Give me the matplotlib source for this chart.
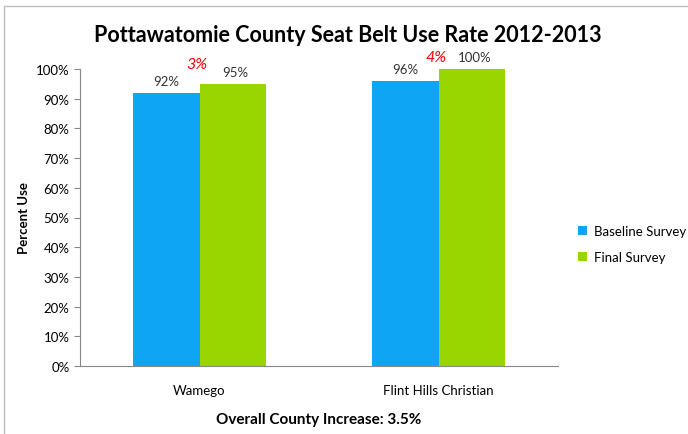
import matplotlib
matplotlib.use("Agg")
import matplotlib.pyplot as plt
import numpy as np
from matplotlib.patches import Rectangle

sites = ["Wamego", "Flint Hills Christian"]
baseline = [0.92, 0.96]
final = [0.95, 1.00]
increase = ["3%", "4%"]
yticks = [0.0, 0.1, 0.2, 0.3, 0.4, 0.5, 0.6, 0.7, 0.8, 0.9, 1.0]

BLUE = "#0ea5f5"
GREEN = "#99d600"

plt.rcParams["font.family"] = ["Lato", "DejaVu Sans"]

fig = plt.figure(figsize=(6.88, 4.35), dpi=100)
# outer chart frame
fig.patches.append(Rectangle((4 / 688, -0.01), 1.2, 1 - 7 / 435 + 0.01, transform=fig.transFigure,
                             fill=False, edgecolor="#bdbdbd", lw=1.0))

ax = fig.add_axes([80 / 688, 1 - 367 / 435, 478 / 688, 297 / 435])
x = np.arange(len(sites))
w = 0.28
ax.bar(x - w / 2, baseline, w, color=BLUE, label="Baseline Survey")
ax.bar(x + w / 2, final, w, color=GREEN, label="Final Survey")

for xi, b, f, inc in zip(x, baseline, final, increase):
    ax.text(xi - w / 2, b + 0.04, f"{b:.0%}", ha="center", va="center", fontsize=9.5, color="#333333")
    ax.text(xi + w / 2 + 0.01, f + 0.04, f"{f:.0%}", ha="center", va="center", fontsize=9.5, color="#333333")
    # red increase label sits just above the taller bar, near the bar pair's middle
    ax.text(xi - 0.01, min(f + 0.067, 1.04), inc, ha="center", va="center", fontsize=11.5,
            color="red", style="italic", clip_on=False)

ax.set_xlim(-0.5, 1.5)
ax.set_ylim(0, 1.0)
ax.set_yticks(yticks)
ax.set_yticklabels([f"{t:.0%}" for t in yticks], fontsize=9.5)
ax.set_xticks(x)
ax.set_xticklabels(sites, fontsize=9.5)
ax.tick_params(axis="x", length=0, pad=13)
ax.tick_params(axis="y", length=4, color="#888888", direction="out")
for s in ["top", "right"]:
    ax.spines[s].set_visible(False)
ax.spines["left"].set_color("#888888")
ax.spines["bottom"].set_color("#888888")

ax.set_ylabel("Percent Use", fontsize=9.5, fontweight="bold")
ax.yaxis.set_label_coords(-0.105, 0.5)
ax.set_xlabel("Overall County Increase: 3.5%", fontsize=11, fontweight="bold")
ax.xaxis.set_label_coords(0.5, -(413 - 367) / 297)

fig.text(348 / 688, 1 - 36 / 435, "Pottawatomie County Seat Belt Use Rate 2012-2013",
         ha="center", va="center", fontsize=15.5, fontweight="bold")

leg = ax.legend(loc="center left", bbox_to_anchor=(1.042, 0.41), frameon=False, fontsize=9.5,
                borderaxespad=0, borderpad=0,
                handlelength=0.7, handleheight=0.7, handletextpad=0.5, labelspacing=1.05)

fig.savefig("out.png", dpi=100)
